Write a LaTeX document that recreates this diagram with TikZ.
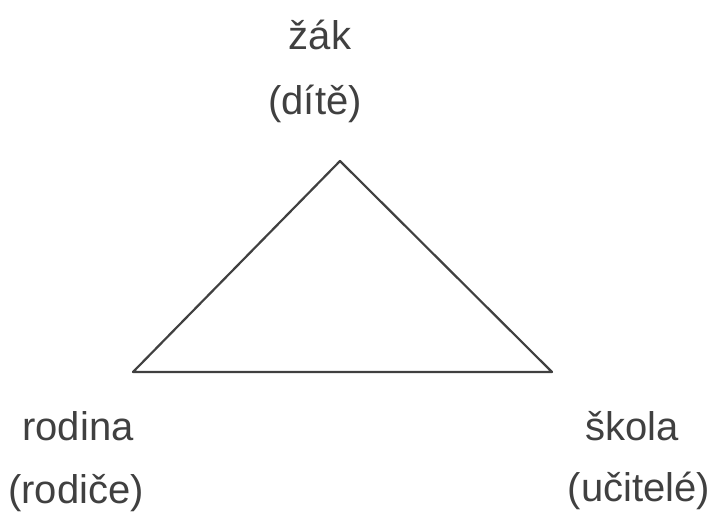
\documentclass[tikz,border=0pt]{standalone}
\usepackage{fontspec}
\setmainfont{Liberation Sans}
\usetikzlibrary{positioning}

\begin{document}
\begin{tikzpicture}[
  x=0.5pt, y=-0.5pt,
  lbl/.style={text=black!75, anchor=base, inner sep=0pt, font=\fontsize{20}{24}\selectfont},
  side/.style={draw=black!75, line width=1.1pt, line join=round}
]
\useasboundingbox (0,0) rectangle (709,514);
\coordinate (top) at (340,161);
\coordinate (left) at (133,372);
\coordinate (right) at (552,372);
\draw[side] (top) -- (left) -- (right) -- cycle;
\node[lbl] (zak) at (320,49) {žák};
\node[lbl] (dite) at (315,114) {(dítě)};
\node[lbl] (rodina) at (78,440) {rodina};
\node[lbl] (rodice) at (76,503) {(rodiče)};
\node[lbl] (skola) at (632,440) {škola};
\node[lbl] (ucitele) at (639,502) {(učitelé)};
\end{tikzpicture}
\end{document}
